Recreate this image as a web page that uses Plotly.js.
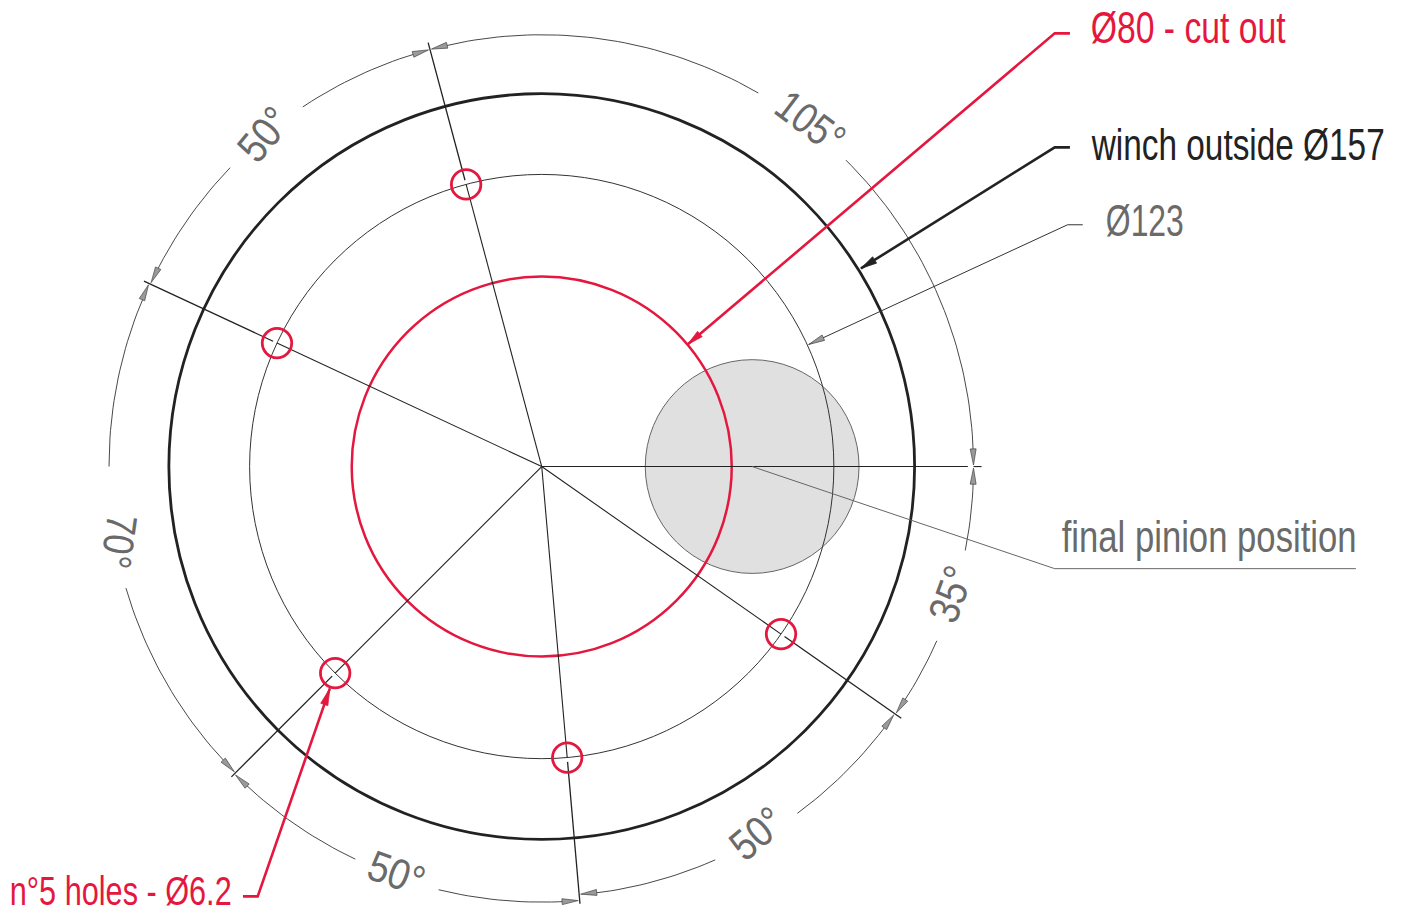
<!DOCTYPE html>
<html><head><meta charset="utf-8">
<script src="https://cdn.plot.ly/plotly-3.0.1.min.js"></script>
<style>html,body{margin:0;padding:0;background:#fff}#c{width:1402px;height:914px}</style>
</head><body><div id="c"></div>
<script>
// All geometry in drawing millimetres, centre of the winch = (0,0)
const xRange = [-114.05, 181.11], yRange = [-94.2, 98.22];
const outerDia = 157, boltDia = 123, cutDia = 80, holeDia = 6.2;
const pinionX = 44.3, pinionR = 22.5;
const holeAngles = [105, 155, 225, 275, 325];
const refAngle = 0;
const spokeEnd = 92.4;
const dimR = 90.9;
// start angle, end angle, radius of each dimension arc piece
const arcSpans = [[1.2, 45.2, 90.9], [59.9, 103.8, 90.9], [106.2, 123.6, 90.9], [136.2, 153.8, 90.9],
                  [156.2, 180, 91.1], [196.3, 223.8, 91.2], [226.2, 244.6, 91.5], [256.3, 273.8, 91.7],
                  [276.2, 293.8, 90.5], [306.4, 323.8, 90.7], [326.2, 336.2, 90.9], [348.8, 358.8, 90.9]];
// spoke angle, side, radius of each dimension arrowhead
const arrowAngles = [[0, 1, 90.9], [105, -1, 90.9], [105, 1, 90.9], [155, -1, 90.9], [155, 1, 91.2], [225, -1, 91.2],
                     [225, 1, 91.5], [275, -1, 91.7], [275, 1, 90.4], [325, -1, 90.7], [325, 1, 90.9], [360, -1, 90.9]];
const leaderCut = {x: [30.7, 108.0, 111.2], y: [25.7, 91.2, 91.2]};
const leaderWinch = {x: [67.2, 108.0, 111.2], y: [41.7, 67.2, 67.2]};
const leaderBolt = {x: [56.2, 110.7, 113.9], y: [25.7, 50.9, 50.9]};
const leaderPinion = {x: [44.3, 108.0, 171.4], y: [0, -21.5, -21.5]};
const leaderHoles = {x: [-44.6, -59.8, -62.9], y: [-46.7, -90.5, -90.5]};
const labelTexts = ['Ø80 - cut out', 'winch outside Ø157', 'Ø123', 'final pinion position', 'n°5 holes - Ø6.2',
                    '105°', '50°', '70°', '50°', '50°', '35°'];
const labelX = [136.1, 146.4, 127.0, 140.5, -88.6, 56.6, -58.5, -88.9, -30.6, 45.3, 86.1];
const labelY = [92.4, 67.8, 51.8, -14.7, -89.3, 72.5, 70.1, -15.8, -85.6, -77.1, -26.8];
const labelAngle = [0, 0, 0, 0, 0, 37, -50, 98, 20, -40, -70];
const labelColor = ['#e4173e', '#222222', '#6a6a6a', '#6a6a6a', '#e4173e', '#6a6a6a', '#6a6a6a', '#6a6a6a', '#6a6a6a', '#6a6a6a', '#6a6a6a'];
const labelSize = [44, 44, 44, 44, 40, 43, 43, 43, 43, 43, 43];
const labelWidth = [195, 293, 78, 295, 222, 74, 56, 54, 57, 56, 56];

const RED = '#e4173e', DARK = '#222222', THIN = '#333333', GREY = '#666666';
const rad = d => d * Math.PI / 180;
const polar = (r, a) => [r * Math.cos(rad(a)), r * Math.sin(rad(a))];
const traces = [];
function line(xs, ys, color, width) {
  traces.push({type: 'scatter', mode: 'lines', x: xs, y: ys, line: {color, width}, hoverinfo: 'skip', showlegend: false});
}
function poly(xs, ys, fill, stroke) {
  traces.push({type: 'scatter', mode: 'lines', x: xs, y: ys, fill: 'toself', fillcolor: fill,
    line: {color: stroke, width: 0.7}, hoverinfo: 'skip', showlegend: false});
}
function head(tx, ty, fx, fy, len, wid, fill, stroke) {
  const d = Math.hypot(fx - tx, fy - ty), ux = (fx - tx) / d, uy = (fy - ty) / d;
  const bx = tx + ux * len, by = ty + uy * len;
  poly([tx, bx - uy * wid / 2, bx + uy * wid / 2, tx], [ty, by + ux * wid / 2, by - ux * wid / 2, ty], fill, stroke);
}
// spokes with their small break at the hole centre
holeAngles.forEach(a => {
  const s = polar(0, a), m = polar(boltDia / 2, a), n = polar(boltDia / 2 + 0.9, a), e = polar(spokeEnd, a);
  line([s[0], m[0]], [s[1], m[1]], DARK, 1.1);
  line([n[0], e[0]], [n[1], e[1]], DARK, 1.3);
});
{
  const m = polar(89.7, refAngle), n = polar(dimR, refAngle), e = polar(spokeEnd + 0.2, refAngle);
  line([0, m[0]], [0, m[1]], DARK, 1.1);
  line([n[0], e[0]], [n[1], e[1]], DARK, 1.1);
}
// dimension arcs
arcSpans.forEach(sp => {
  const xs = [], ys = [];
  for (let a = sp[0]; a < sp[1]; a += 1) { const p = polar(sp[2], a); xs.push(p[0]); ys.push(p[1]); }
  const p = polar(sp[2], sp[1]); xs.push(p[0]); ys.push(p[1]);
  line(xs, ys, THIN, 0.9);
});
// dimension arrowheads
arrowAngles.forEach(s => {
  const t = polar(s[2], s[0] + s[1] * 0.2), f = polar(s[2], s[0] + s[1] * 2.3);
  head(t[0], t[1], f[0], f[1], 3.4, 1.25, '#9a9a9a', '#444444');
});
// leaders
line(leaderPinion.x, leaderPinion.y, GREY, 1);
line(leaderBolt.x, leaderBolt.y, THIN, 1);
line(leaderWinch.x, leaderWinch.y, DARK, 2.6);
line(leaderCut.x, leaderCut.y, RED, 2.6);
line(leaderHoles.x, leaderHoles.y, RED, 2.6);
head(leaderCut.x[0], leaderCut.y[0], leaderCut.x[1], leaderCut.y[1], 3.4, 1.5, RED, RED);
head(leaderWinch.x[0], leaderWinch.y[0], leaderWinch.x[1], leaderWinch.y[1], 3.4, 1.6, DARK, DARK);
head(leaderBolt.x[0], leaderBolt.y[0], leaderBolt.x[1], leaderBolt.y[1], 3.4, 1.25, '#9a9a9a', '#444444');
head(leaderHoles.x[0], leaderHoles.y[0], leaderHoles.x[1], leaderHoles.y[1], 3.6, 1.6, RED, RED);

const circle = (cx, cy, r, color, width, fill, layer) => ({type: 'circle', xref: 'x', yref: 'y',
  x0: cx - r, x1: cx + r, y0: cy - r, y1: cy + r, line: {color, width}, fillcolor: fill, layer});
const shapes = [
  circle(pinionX, 0, pinionR, '#666666', 1, '#e0e0e0', 'below'),
  circle(0, 0, boltDia / 2, THIN, 1, 'rgba(0,0,0,0)', 'below'),
  circle(0, 0, outerDia / 2, DARK, 2.8, 'rgba(0,0,0,0)', 'below'),
  circle(0, 0, cutDia / 2, RED, 2.5, 'rgba(0,0,0,0)', 'below')
];
holeAngles.forEach(a => { const p = polar(boltDia / 2, a); shapes.push(circle(p[0], p[1], holeDia / 2, RED, 2.8, 'rgba(0,0,0,0)', 'above')); });

const annotations = labelTexts.map((t, i) => ({
  text: t, x: labelX[i], y: labelY[i], xref: 'x', yref: 'y', showarrow: false,
  xanchor: 'center', yanchor: 'middle', textangle: labelAngle[i],
  font: {family: '"Liberation Sans Narrow","Liberation Sans",sans-serif', size: labelSize[i], color: labelColor[i]}
}));
const layout = {
  width: 1402, height: 914, margin: {l: 0, r: 0, t: 0, b: 0}, showlegend: false,
  paper_bgcolor: '#ffffff', plot_bgcolor: '#ffffff',
  xaxis: {range: xRange, visible: false, fixedrange: true},
  yaxis: {range: yRange, visible: false, fixedrange: true},
  shapes, annotations, hovermode: false
};
Plotly.newPlot('c', traces, layout, {displayModeBar: false, staticPlot: true}).then(gd => {
  gd.querySelectorAll('.annotation-text').forEach((el, i) => {
    const k = labelWidth[i] / el.getComputedTextLength();
    const cx = parseFloat(el.getAttribute('x')) || 0;
    el.setAttribute('transform', `translate(${cx},0) scale(${k},1) translate(${-cx},0)`);
  });
});
</script></body></html>
